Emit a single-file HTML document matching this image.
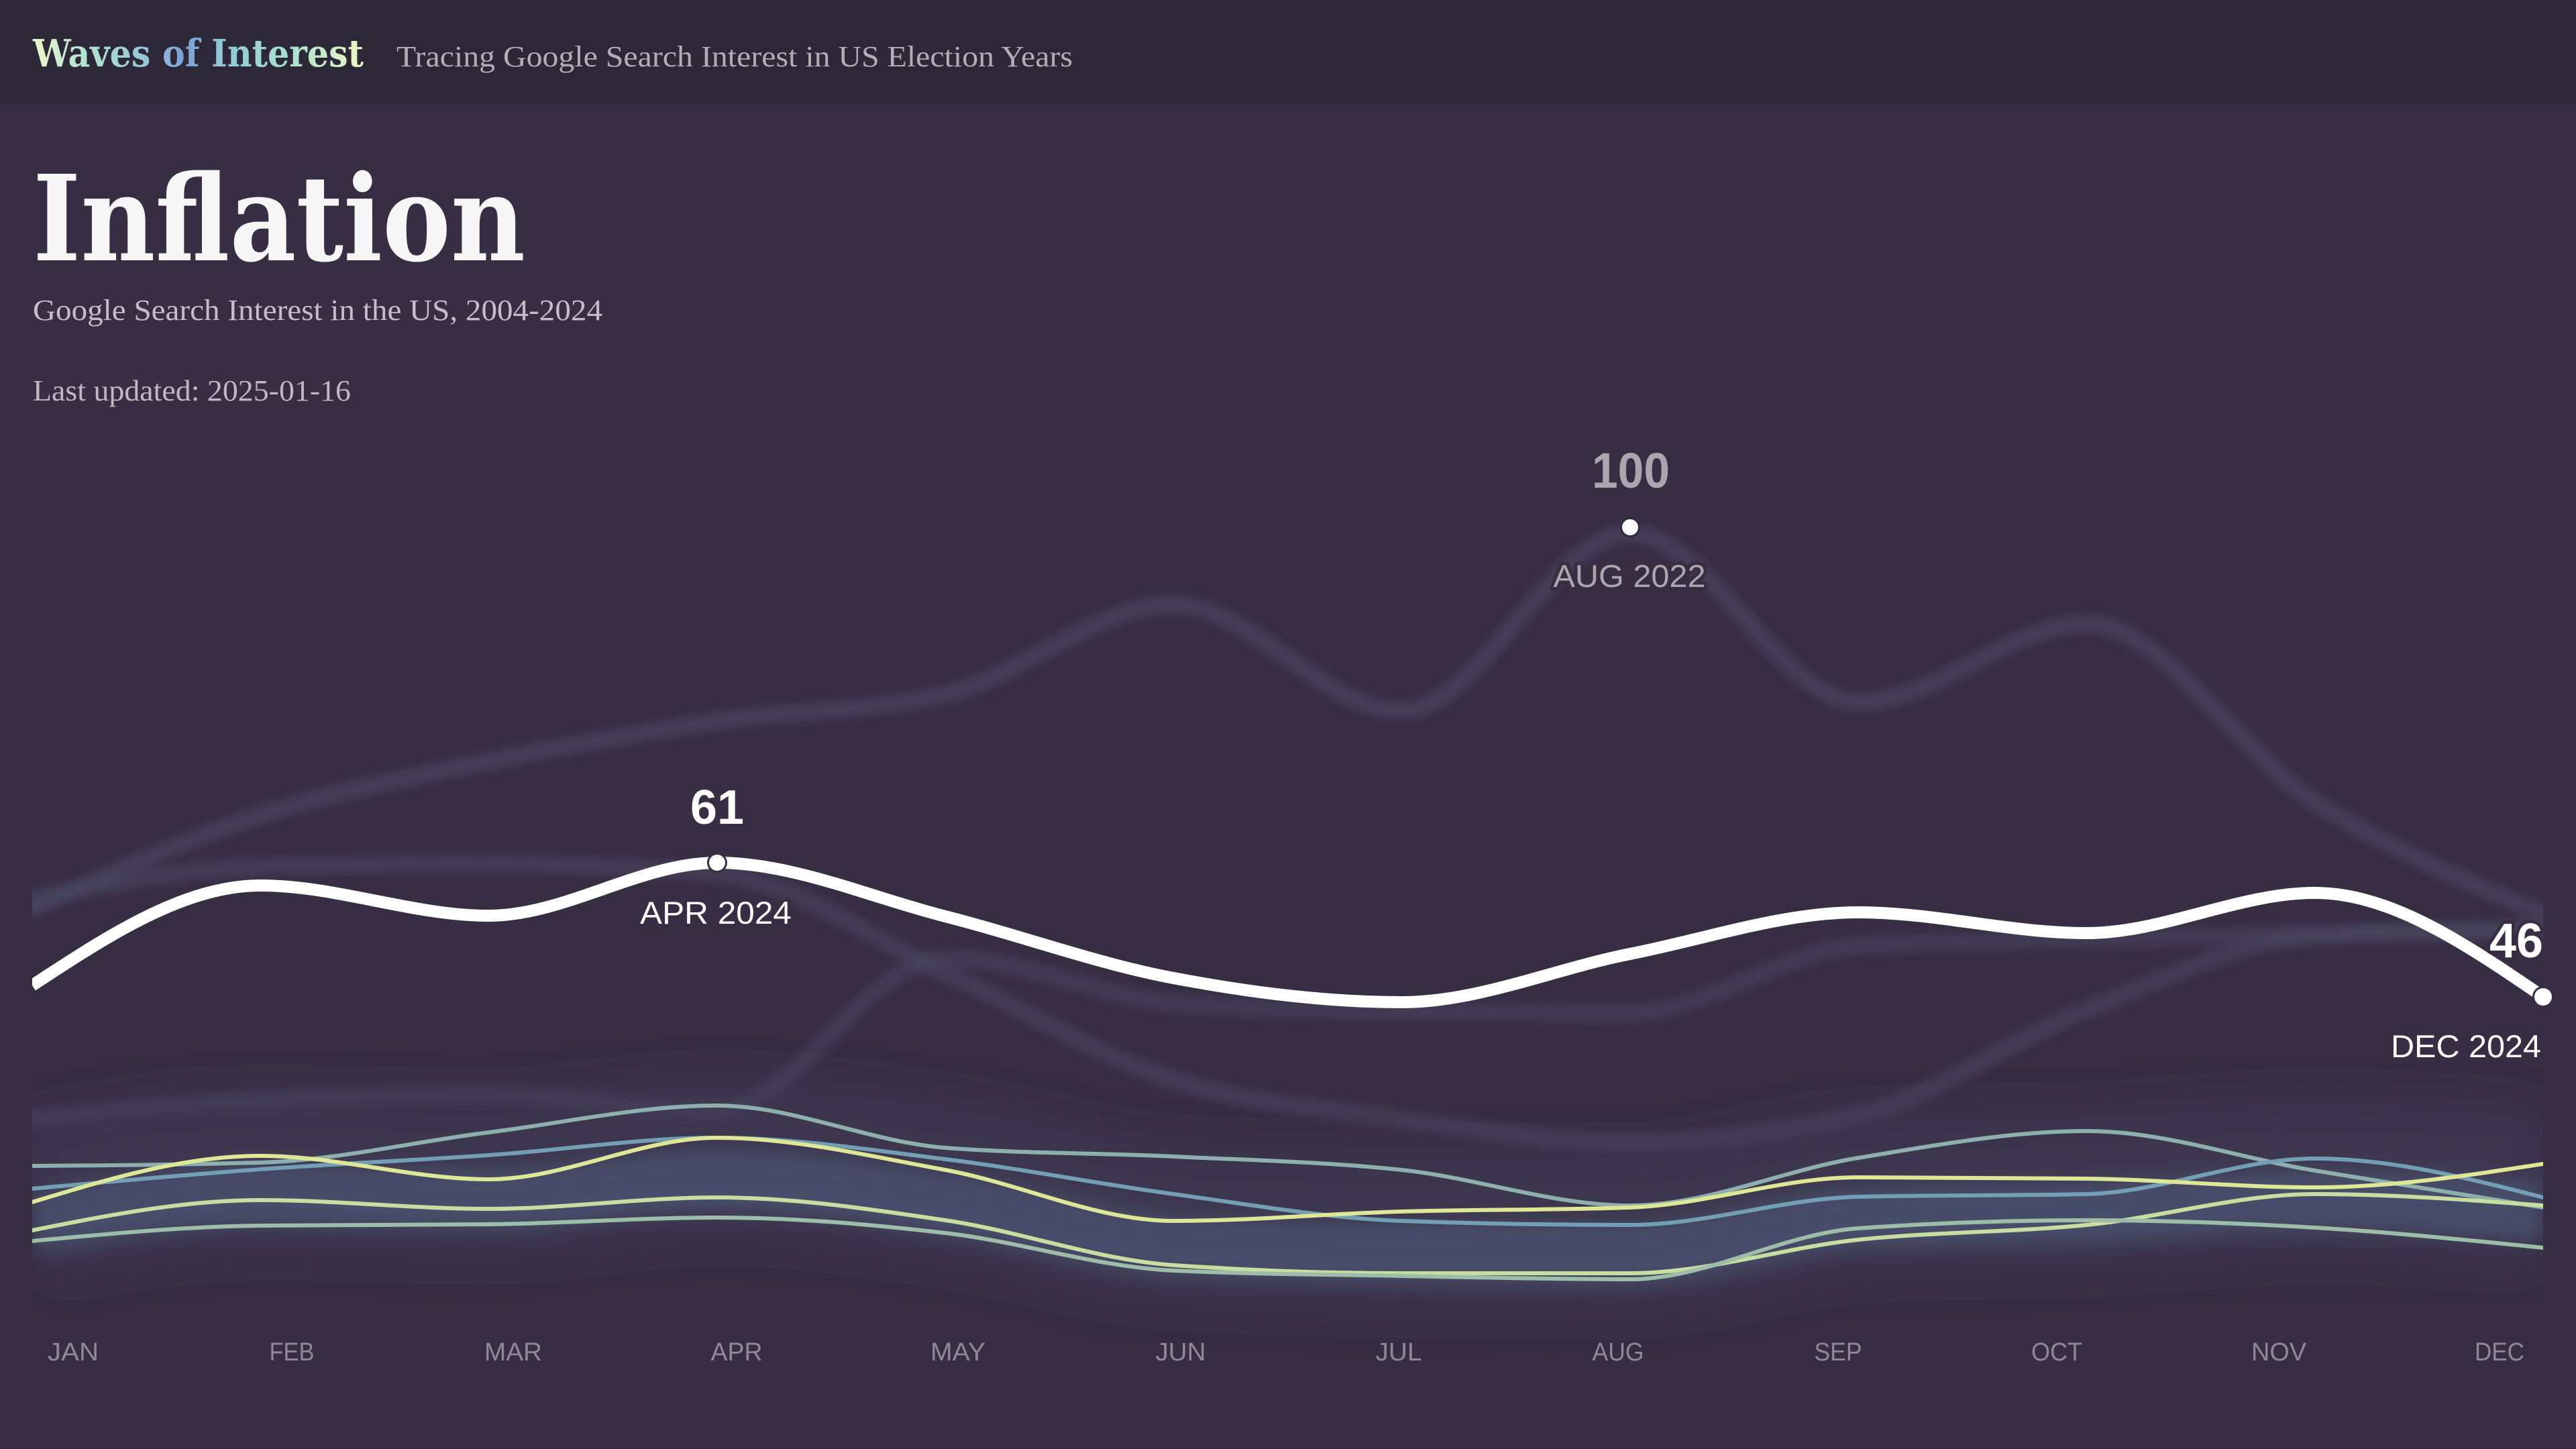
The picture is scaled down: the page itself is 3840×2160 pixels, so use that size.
<!DOCTYPE html>
<html><head><meta charset="utf-8">
<style>
html,body{margin:0;padding:0;background:#372e43;width:3840px;height:2160px;overflow:hidden}
svg{display:block}
</style></head>
<body>
<svg id="s" xmlns="http://www.w3.org/2000/svg" width="3840" height="2160" viewBox="0 0 3840 2160">
<defs>
<linearGradient id="logo" gradientUnits="userSpaceOnUse" x1="49" y1="0" x2="542" y2="0">
<stop offset="0" stop-color="#eef7c8"/>
<stop offset="0.13" stop-color="#b8e6d0"/>
<stop offset="0.36" stop-color="#93c4d6"/>
<stop offset="0.46" stop-color="#7d9ed6"/>
<stop offset="0.56" stop-color="#8ec6d6"/>
<stop offset="0.78" stop-color="#a9e2cf"/>
<stop offset="1" stop-color="#f0f7c4"/>
</linearGradient>
<filter id="gb" filterUnits="userSpaceOnUse" x="0" y="0" width="3840" height="2160"><feGaussianBlur stdDeviation="6"/></filter>
<filter id="bb" filterUnits="userSpaceOnUse" x="0" y="0" width="3840" height="2160"><feGaussianBlur stdDeviation="14"/></filter>
<filter id="wb" filterUnits="userSpaceOnUse" x="0" y="0" width="3840" height="2160"><feGaussianBlur stdDeviation="35"/></filter>
<clipPath id="cp"><rect x="48" y="560" width="3743" height="1500"/></clipPath>
</defs>
<rect x="0" y="0" width="3840" height="2160" fill="#372e43"/>
<rect x="0" y="0" width="3840" height="155" fill="#2c2837"/>

<text x="49" y="99" font-family="'DejaVu Serif','Liberation Serif',serif" font-weight="bold" font-size="56" fill="url(#logo)" textLength="493" lengthAdjust="spacingAndGlyphs">Waves of Interest</text>
<text x="591" y="99" font-family="'Liberation Serif',serif" font-size="44" fill="#b3adb9" textLength="1008" lengthAdjust="spacingAndGlyphs">Tracing Google Search Interest in US Election Years</text>

<text x="49" y="388" font-family="'DejaVu Serif','Liberation Serif',serif" font-weight="bold" font-size="177" fill="#f6f6f6" textLength="734" lengthAdjust="spacingAndGlyphs">Inflation</text>
<text x="49" y="477" font-family="'Liberation Serif',serif" font-size="44" fill="#c3bec9" textLength="849" lengthAdjust="spacingAndGlyphs">Google Search Interest in the US, 2004-2024</text>
<text x="49" y="597" font-family="'Liberation Serif',serif" font-size="44" fill="#bdb8c3" textLength="474" lengthAdjust="spacingAndGlyphs">Last updated: 2025-01-16</text>

<g clip-path="url(#cp)">
  <g id="ghosts" filter="url(#gb)" fill="none" stroke="#4b4862" stroke-width="26" stroke-opacity="0.6" stroke-linecap="round"></g>
  <path id="wideglow" fill="none" stroke="#433e5a" stroke-width="230" stroke-opacity="0.5" filter="url(#wb)"/>
  <path id="band" fill="none" stroke="#4b5474" stroke-width="90" stroke-opacity="0.72" filter="url(#bb)"/>
  <g id="colored" fill="none" stroke-width="6" stroke-linecap="round"></g>
  <path id="white" fill="none" stroke="#ffffff" stroke-width="18" stroke-linecap="butt"/>
</g>

<g font-family="'Liberation Sans',sans-serif" stroke="#372e43" stroke-width="10" paint-order="stroke" stroke-linejoin="round">
  <circle cx="2430" cy="786" r="12" fill="#ffffff" stroke="#2f2a3b" stroke-width="6"/>
  <text x="2431" y="727" text-anchor="middle" font-weight="bold" font-size="74" fill="#aaa6ad" textLength="116" lengthAdjust="spacingAndGlyphs">100</text>
  <text x="2429" y="875" text-anchor="middle" font-size="47" fill="#aba7ae" textLength="227" lengthAdjust="spacingAndGlyphs">AUG 2022</text>

  <circle cx="1069" cy="1286" r="12" fill="#ffffff" stroke="#372e43" stroke-width="6"/>
  <text x="1069" y="1228" text-anchor="middle" font-weight="bold" font-size="72" fill="#ffffff" stroke-width="0">61</text>
  <text x="1067" y="1377" text-anchor="middle" font-size="47" fill="#ffffff" textLength="226" lengthAdjust="spacingAndGlyphs">APR 2024</text>

  <circle cx="3791" cy="1486" r="13" fill="#ffffff" stroke="#372e43" stroke-width="6"/>
  <text x="3791" y="1427" text-anchor="end" font-weight="bold" font-size="72" fill="#ffffff" textLength="80" lengthAdjust="spacingAndGlyphs">46</text>
  <text x="3788" y="1576" text-anchor="end" font-size="47" fill="#ffffff" textLength="224" lengthAdjust="spacingAndGlyphs">DEC 2024</text>
</g>

<g font-family="'Liberation Sans',sans-serif" font-size="38" fill="#8e8999" text-anchor="middle">
  <text x="109" y="2028" textLength="76" lengthAdjust="spacingAndGlyphs">JAN</text>
  <text x="435" y="2028" textLength="67" lengthAdjust="spacingAndGlyphs">FEB</text>
  <text x="765" y="2028" textLength="86" lengthAdjust="spacingAndGlyphs">MAR</text>
  <text x="1098" y="2028" textLength="77" lengthAdjust="spacingAndGlyphs">APR</text>
  <text x="1428" y="2028" textLength="82" lengthAdjust="spacingAndGlyphs">MAY</text>
  <text x="1760" y="2028" textLength="75" lengthAdjust="spacingAndGlyphs">JUN</text>
  <text x="2085" y="2028" textLength="69" lengthAdjust="spacingAndGlyphs">JUL</text>
  <text x="2412" y="2028" textLength="77" lengthAdjust="spacingAndGlyphs">AUG</text>
  <text x="2740" y="2028" textLength="71" lengthAdjust="spacingAndGlyphs">SEP</text>
  <text x="3066" y="2028" textLength="76" lengthAdjust="spacingAndGlyphs">OCT</text>
  <text x="3397" y="2028" textLength="82" lengthAdjust="spacingAndGlyphs">NOV</text>
  <text x="3726" y="2028" textLength="74" lengthAdjust="spacingAndGlyphs">DEC</text>
</g>
</svg>
<script>
(function(){
  var NS="http://www.w3.org/2000/svg";
  function X(i){return 48+i*3743/11;}
  function mono(ys){
    var n=ys.length,xs=[],s=[],m=[],i;
    for(i=0;i<n;i++)xs.push(X(i));
    for(i=0;i<n-1;i++)s.push((ys[i+1]-ys[i])/(xs[i+1]-xs[i]));
    for(i=1;i<n-1;i++){
      var h0=xs[i]-xs[i-1],h1=xs[i+1]-xs[i],s0=s[i-1],s1=s[i],p=(s0*h1+s1*h0)/(h0+h1);
      m[i]=(Math.sign(s0)+Math.sign(s1))*Math.min(Math.abs(s0),Math.abs(s1),0.5*Math.abs(p))||0;
    }
    m[0]=(3*s[0]-m[1])/2; m[n-1]=(3*s[n-2]-m[n-2])/2;
    var d="M"+xs[0].toFixed(1)+","+ys[0].toFixed(1);
    for(i=0;i<n-1;i++){
      var dx=(xs[i+1]-xs[i])/3;
      d+="C"+(xs[i]+dx).toFixed(1)+","+(ys[i]+dx*m[i]).toFixed(1)+" "+(xs[i+1]-dx).toFixed(1)+","+(ys[i+1]-dx*m[i+1]).toFixed(1)+" "+xs[i+1].toFixed(1)+","+ys[i+1].toFixed(1);
    }
    return d;
  }
  var ghosts=[
    [1355,1215,1135,1075,1035,901,1060,795,1047,930,1195,1362],
    [1340,1292,1288,1302,1450,1610,1668,1703,1662,1505,1395,1385],
    [1668,1640,1632,1655,1428,1495,1508,1510,1410,1400,1392,1386]
  ];
  var gop=[0.6,0.55,0.5];
  var gg=document.getElementById("ghosts");
  ghosts.forEach(function(g,k){
    var p=document.createElementNS(NS,"path");p.setAttribute("d",mono(g));
    p.setAttribute("stroke-opacity",gop[k]);gg.appendChild(p);
  });
  var C=[
    {c:"#8db0ae",y:[1738,1733,1688,1648,1711,1724,1744,1797,1726,1686,1745,1800]},
    {c:"#739fb5",y:[1772,1743,1722,1696,1728,1780,1820,1826,1784,1780,1727,1785]},
    {c:"#dde796",y:[1792,1723,1758,1696,1744,1820,1806,1800,1755,1757,1770,1735]},
    {c:"#c8dda0",y:[1834,1789,1802,1785,1819,1886,1898,1898,1848,1826,1780,1797]},
    {c:"#9ebda8",y:[1850,1827,1825,1815,1838,1894,1902,1907,1831,1819,1830,1860]}
  ];
  var band=[],wide=[];
  for(var i=0;i<12;i++){
    var a=(C[1].y[i]+C[2].y[i]+C[3].y[i]+C[4].y[i])/4+12;
    band.push(a);wide.push(a-35);
  }
  document.getElementById("band").setAttribute("d",mono(band));
  document.getElementById("wideglow").setAttribute("d",mono(wide));
  var cg=document.getElementById("colored");
  C.forEach(function(o){
    var p=document.createElementNS(NS,"path");p.setAttribute("d",mono(o.y));
    p.setAttribute("stroke",o.c);cg.appendChild(p);
  });
  document.getElementById("white").setAttribute("d",mono([1469,1320,1365,1286,1366,1458,1494,1422,1360,1391,1331,1486]));
})();
</script>
</body></html>
